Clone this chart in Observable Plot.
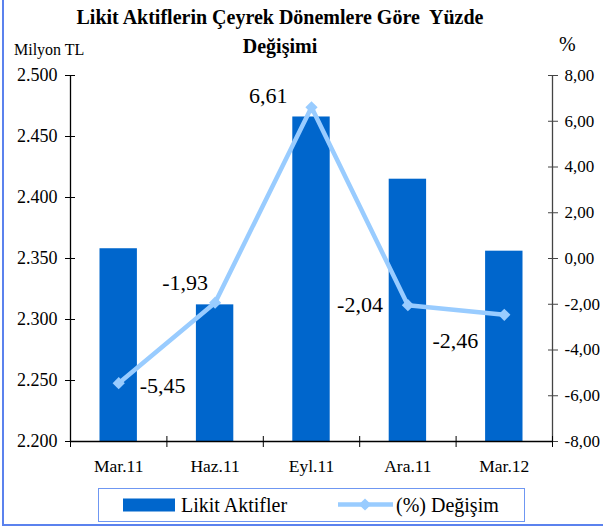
<!DOCTYPE html>
<html>
<head>
<meta charset="utf-8">
<script src="https://cdn.jsdelivr.net/npm/d3@7"></script>
<script src="https://cdn.jsdelivr.net/npm/@observablehq/plot@0.6"></script>
<style>
  html, body { margin: 0; padding: 0; background: #fff; }
  #wrap { position: relative; width: 603px; height: 531px; overflow: hidden; font-family: "Liberation Serif", "Times New Roman", serif; }
  #wrap svg, #wrap svg text { font-family: "Liberation Serif", "Times New Roman", serif !important; }
  #frame { position: absolute; left: 2px; top: -10px; width: 700px; height: 536px; border-left: 2px solid #5b82ee; border-bottom: 2px solid #5b82ee; box-sizing: border-box; }
  .title { position: absolute; text-align: center; font-weight: bold; font-size: 20px; line-height: 29px; white-space: pre; }
  #t1 { left: 60px; top: 3px; width: 440px; }
  #t2 { left: 225px; top: 32px; width: 110px; }
  #yl { position: absolute; left: 14px; top: 40px; font-size: 16px; line-height: 20px; }
  #yr { position: absolute; left: 559px; top: 32px; font-size: 20px; line-height: 24px; }
  #legend { position: absolute; left: 98px; top: 488px; width: 427px; height: 34px; border: 1.5px solid #6f97f2; box-sizing: border-box; }
  #chart { position: absolute; left: 0; top: 0; }
</style>
</head>
<body>
<div id="wrap">
  <div id="frame"></div>
  <div id="chart"></div>
  <div class="title" id="t1">Likit Aktiflerin Çeyrek Dönemlere Göre  Yüzde</div>
  <div class="title" id="t2">Değişimi</div>
  <div id="yl">Milyon TL</div>
  <div id="yr">%</div>
  <div id="legend"></div>
</div>
<script>
// ---- data ----
const categories = ["Mar.11", "Haz.11", "Eyl.11", "Ara.11", "Mar.12"];
const liquidAssets = [2358, 2312, 2466, 2415, 2356];   // Milyon TL
const pctChange = [-5.45, -1.93, 6.61, -2.04, -2.46];   // %
const pctLabels = ["-5,45", "-1,93", "6,61", "-2,04", "-2,46"];
const leftTicks = [2200, 2250, 2300, 2350, 2400, 2450, 2500];
const rightTicks = [-8, -6, -4, -2, 0, 2, 4, 6, 8];

// ---- helpers ----
const yMin = 2200, yMax = 2500, pMin = -8, pMax = 8;
const pctToY = v => yMin + (v - pMin) / (pMax - pMin) * (yMax - yMin);
const yToPct = y => (y - yMin) / (yMax - yMin) * (pMax - pMin) + pMin;
const trLocale = d3.formatLocale({decimal: ",", thousands: ".", grouping: [3], currency: ["", ""]});
const fmtLeft = trLocale.format(",");
const fmtRight = d => { const v = Math.round(yToPct(d) * 100) / 100; return (v === 0 ? 0 : v).toFixed(2).replace(".", ","); };

const data = categories.map((c, i) => ({cat: c, i, value: liquidAssets[i], pct: pctChange[i], label: pctLabels[i]}));

// label placement relative to the point (style, not data)
const labelAnchor = ["start", "end", "end", "end", "end"];
const labelDx = [21, -7, -24, -25, -26];
const labelDy = [3, -20, -11, 0, 26];

const lineColor = "#99CCFF";
const barColor = "#0066CC";
const serif = '"Liberation Serif", "Times New Roman", serif';

const labelMarks = data.map(d => Plot.text([d], {x: d.i + 0.5, y: pctToY(d.pct), text: "label", textAnchor: labelAnchor[d.i], dx: labelDx[d.i], dy: labelDy[d.i], fontSize: 22, fontFamily: serif, fill: "#000"}));

const chart = Plot.plot({
  width: 603,
  height: 531,
  marginTop: 75,
  marginBottom: 90,
  marginLeft: 70,
  marginRight: 51,
  style: {fontFamily: serif, fontSize: "18px", background: "transparent", color: "#000"},
  x: {type: "linear", domain: [0, categories.length], axis: null},
  y: {domain: [yMin, yMax], axis: null},
  marks: [
    Plot.rectY(data, {x1: d => d.i, x2: d => d.i + 1, y1: yMin, y2: "value", insetLeft: 29.5, insetRight: 29.5, fill: barColor}),
    // left axis
    Plot.ruleX([0], {stroke: "#000", strokeWidth: 1.3}),
    Plot.axisY({ticks: leftTicks, tickSize: 10, dx: 5, tickFormat: () => "", label: null, stroke: "#000"}),
    Plot.axisY({ticks: leftTicks, tickSize: 0, tickPadding: 13, tickFormat: fmtLeft, label: null, fontSize: 18, fontFamily: serif}),
    // right axis
    Plot.ruleX([categories.length], {stroke: "#444", strokeWidth: 1.3}),
    Plot.axisY({anchor: "right", ticks: rightTicks.map(pctToY), tickSize: 10, dx: -5, tickFormat: () => "", label: null, stroke: "#444"}),
    Plot.axisY({anchor: "right", ticks: rightTicks.map(pctToY), tickSize: 0, tickPadding: 12, tickFormat: fmtRight, label: null, fontSize: 17, fontFamily: serif}),
    // x axis
    Plot.ruleY([yMin], {stroke: "#000", strokeWidth: 1.3}),
    Plot.axisX({ticks: d3.range(categories.length + 1), tickSize: 11, dy: -5, tickFormat: () => "", label: null, stroke: "#000"}),
    Plot.axisX({ticks: d3.range(categories.length).map(i => i + 0.5), tickSize: 0, tickPadding: 18, tickFormat: d => categories[Math.floor(d)], label: null, fontSize: 17.5, fontFamily: serif}),
    // percent line
    Plot.line(data, {x: d => d.i + 0.5, y: d => pctToY(d.pct), stroke: lineColor, strokeWidth: 4.5}),
    Plot.dot(data, {x: d => d.i + 0.5, y: d => pctToY(d.pct), symbol: "diamond2", r: 5.5, fill: lineColor}),
    ...labelMarks
  ]
});
document.getElementById("chart").appendChild(chart);

// ---- legend ----
const lg = d3.select("#legend").append("svg").attr("width", 425).attr("height", 31).style("display", "block");
const ox = 99, oy = 489.5;
lg.append("rect").attr("x", 123 - ox).attr("y", 499 - oy).attr("width", 52).attr("height", 13).attr("fill", barColor);
lg.append("text").attr("x", 181 - ox).attr("y", 505 - oy).attr("dy", "0.35em").style("font-size", "20px").style("font-family", serif).text("Likit Aktifler");
lg.append("line").attr("x1", 338 - ox).attr("x2", 393 - ox).attr("y1", 505 - oy).attr("y2", 505 - oy).attr("stroke", lineColor).attr("stroke-width", 4.5);
lg.append("path").attr("d", d3.symbol(d3.symbolDiamond2, Math.PI * 5.5 * 5.5)()).attr("transform", `translate(${365 - ox},${505 - oy})`).attr("fill", lineColor);
lg.append("text").attr("x", 396 - ox).attr("y", 505 - oy).attr("dy", "0.35em").style("font-size", "20px").style("font-family", serif).text("(%) Değişim");
</script>
</body>
</html>
